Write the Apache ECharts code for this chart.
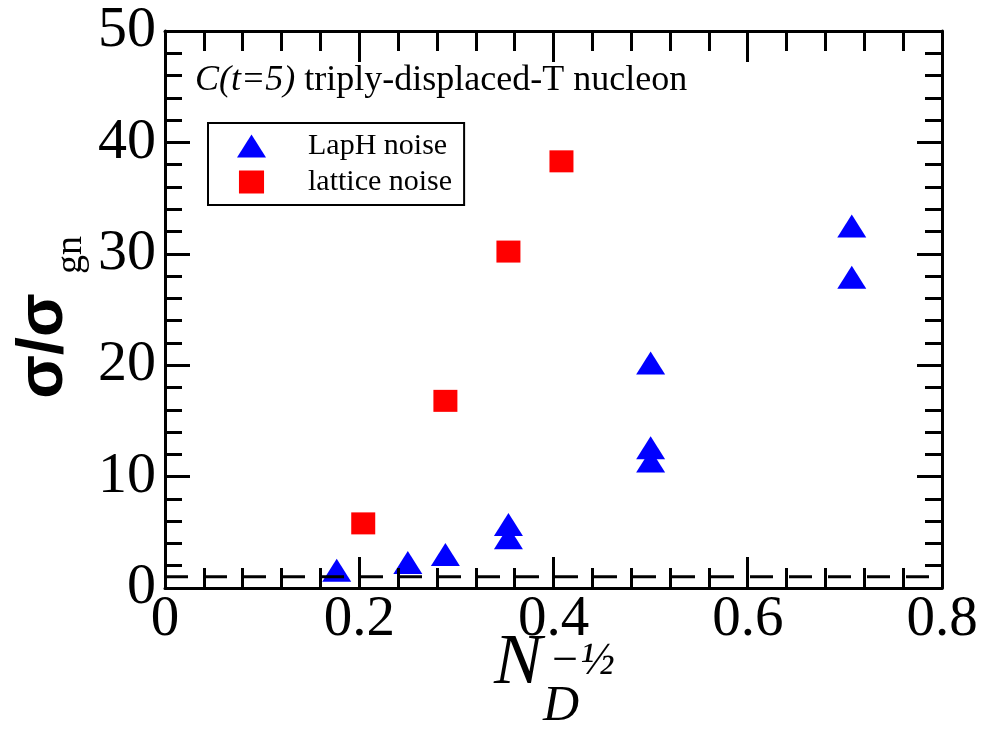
<!DOCTYPE html>
<html>
<head>
<meta charset="utf-8">
<script src="https://cdn.jsdelivr.net/npm/echarts@6/dist/echarts.min.js"></script>
<style>
html,body{margin:0;padding:0;background:#fff;}
#chart{width:996px;height:739px;}
</style>
</head>
<body>
<div id="chart"></div>
<script>
// ---- data ----
var lapHX = [0.1768, 0.25, 0.2887, 0.3536, 0.3536, 0.5, 0.5, 0.5, 0.7071, 0.7071];
var lapHY = [1.6, 2.3, 3.0, 5.7, 4.5, 20.2, 12.6, 11.4, 32.5, 27.9];
var latticeX = [0.2041, 0.2887, 0.3536, 0.4082];
var latticeY = [5.8, 16.8, 30.2, 38.3];
var refLevel = 1;
var xRange = [0, 0.8];
var yRange = [0, 50];
var xTickLabels = ['0', '0.2', '0.4', '0.6', '0.8'];
var seriesNames = ['LapH noise', 'lattice noise'];
var titleItalic = 'C(t=5)';
var titleRest = ' triply-displaced-T nucleon';

function pairs(xs, ys){ return xs.map(function(x,i){ return [x, ys[i]]; }); }

var chart = echarts.init(document.getElementById('chart'), null, {renderer:'canvas'});
var black = '#000';
var serif = 'Liberation Serif';

function xAxisDef(pos, showLabel){
  return {
    type:'value', min:xRange[0], max:xRange[1], interval:0.2, position:pos, z:5,
    axisLine:{show:true, onZero:false, lineStyle:{color:black, width:3}},
    axisTick:{show:true, inside:true, length:31, lineStyle:{color:black, width:3}},
    minorTick:{show:true, splitNumber:5, length:20, lineStyle:{color:black, width:3}},
    splitLine:{show:false}, minorSplitLine:{show:false},
    axisLabel:{show:showLabel, color:black, fontFamily:serif, fontSize:57, margin:4,
      formatter:function(v){ var i = Math.round(v/0.2); return xTickLabels[i]; }}
  };
}
function yAxisDef(pos, showLabel){
  return {
    type:'value', min:yRange[0], max:yRange[1], interval:10, position:pos, z:5,
    axisLine:{show:true, onZero:false, lineStyle:{color:black, width:3}},
    axisTick:{show:true, inside:true, length:25, lineStyle:{color:black, width:3}},
    minorTick:{show:true, splitNumber:5, length:17, lineStyle:{color:black, width:3}},
    splitLine:{show:false}, minorSplitLine:{show:false},
    axisLabel:{show:showLabel, color:black, fontFamily:serif, fontSize:58, margin:9}
  };
}

var option = {
  backgroundColor:'#fff',
  animation:false,
  grid:{left:165, top:31, width:777, height:557, containLabel:false},
  xAxis:[xAxisDef('bottom', true), xAxisDef('top', false)],
  yAxis:[yAxisDef('left', true), yAxisDef('right', false)],
  legend:{
    data:[{name:seriesNames[0], icon:'triangle'}, {name:seriesNames[1], icon:'path://M0,0H24V22H0Z'}],
    orient:'vertical', left:208, top:123,
    itemWidth:29, itemHeight:23, itemGap:6,
    padding:[8, 12, 8, 29],
    borderColor:black, borderWidth:2, backgroundColor:'#fff',
    textStyle:{fontFamily:serif, fontSize:30, color:black, padding:[0,0,0,37]},
    selectedMode:false
  },
  series:[
    {
      name:'ref', type:'line', xAxisIndex:0, yAxisIndex:0, z:4, silent:true,
      data:[[xRange[0], refLevel],[xRange[1], refLevel]],
      symbol:'none',
      lineStyle:{color:black, width:3, type:[23,16], cap:'butt'}
    },
    {
      name:seriesNames[0], type:'scatter', z:2,
      data:pairs(lapHX, lapHY),
      symbol:'triangle', symbolSize:[29,23],
      itemStyle:{color:'#0000ff', opacity:1}
    },
    {
      name:seriesNames[1], type:'scatter', z:2,
      data:pairs(latticeX, latticeY),
      symbol:'rect', symbolSize:[24,22],
      itemStyle:{color:'#ff0000', opacity:1}
    }
  ],
  graphic:[
    {
      type:'text', left:195, top:63, z:10,
      style:{
        text:'{i|' + titleItalic + '}{n|' + titleRest + '}',
        rich:{
          i:{fontFamily:serif, fontStyle:'italic', fontSize:36, fill:black},
          n:{fontFamily:serif, fontSize:36, fill:black}
        }
      }
    },
    {
      type:'text', x:44, y:346, rotation:Math.PI/2, z:10,
      style:{text:'σ/σ', font:'bold 64px "Liberation Sans"', fill:black, align:'center', verticalAlign:'middle'}
    },
    {
      type:'text', x:71, y:255, rotation:Math.PI/2, z:10,
      style:{text:'gn', font:'38px "Liberation Serif"', fill:black, align:'center', verticalAlign:'middle'}
    },
    {
      type:'text', x:518, y:664, z:10,
      style:{text:'N', font:'italic 72px "Liberation Serif"', fill:black, align:'center', verticalAlign:'middle'}
    },
    {
      type:'text', x:561, y:707, z:10,
      style:{text:'D', font:'italic 50px "Liberation Serif"', fill:black, align:'center', verticalAlign:'middle'}
    },
    {
      type:'text', x:582, y:662, z:10,
      style:{text:'−½', font:'italic 46px "Liberation Serif"', fill:black, align:'center', verticalAlign:'middle'}
    }
  ]
};
chart.setOption(option);
</script>
</body>
</html>
